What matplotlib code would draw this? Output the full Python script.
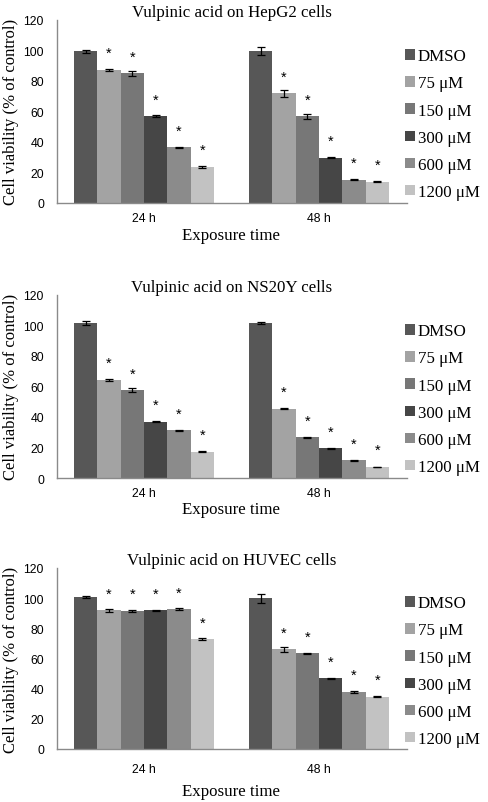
import matplotlib
matplotlib.use("Agg")
import matplotlib.pyplot as plt
import numpy as np

groups = ["24 h", "48 h"]
series = ["DMSO", "75 \u03bcM", "150 \u03bcM", "300 \u03bcM", "600 \u03bcM", "1200 \u03bcM"]
colors = ["#575757", "#a3a3a3", "#777777", "#464646", "#8b8b8b", "#c2c2c2"]

titles = ["Vulpinic acid on HepG2 cells", "Vulpinic acid on NS20Y cells", "Vulpinic acid on HUVEC cells"]

# values[series][group]
hepg2_vals = [[99.2, 99.4], [87.2, 71.8], [84.8, 56.7], [56.8, 29.6], [36.6, 15.3], [23.6, 13.9]]
hepg2_err = [[0.8, 2.6], [0.5, 2.2], [1.5, 1.4], [0.8, 0.3], [0.3, 0.3], [0.4, 0.3]]
hepg2_sig = [[False, False], [True, True], [True, True], [True, True], [True, True], [True, True]]

ns20y_vals = [[101.5, 101.5], [64.2, 45.4], [57.6, 26.6], [36.9, 19.6], [31.2, 11.6], [17.2, 7.2]]
ns20y_err = [[1.5, 0.4], [0.5, 0.4], [1.0, 0.5], [0.4, 0.3], [0.3, 0.3], [0.3, 0.3]]
ns20y_sig = [[False, False], [True, True], [True, True], [True, True], [True, True], [True, True]]

huvec_vals = [[101.0, 100.0], [91.9, 66.1], [91.5, 63.6], [92.0, 46.9], [92.8, 37.9], [72.9, 34.6]]
huvec_err = [[0.6, 3.0], [1.0, 1.5], [0.8, 0.3], [0.4, 0.3], [0.4, 0.5], [0.4, 0.3]]
huvec_sig = [[False, False], [True, True], [True, True], [True, True], [True, True], [True, True]]

panels = [(hepg2_vals, hepg2_err, hepg2_sig),
          (ns20y_vals, ns20y_err, ns20y_sig),
          (huvec_vals, huvec_err, huvec_sig)]

yticks = [0, 20, 40, 60, 80, 100, 120]

W, H = 488, 803
fig = plt.figure(figsize=(W / 100, H / 100), dpi=100)

# axes pixel boxes: (y_top_px for 120, y_bottom_px for 0)
boxes = [(20.7, 204), (295.7, 479), (569, 750)]
xlabel_px = [236, 510, 792]
ticklabel_px = [219, 494, 770]
left_px, right_px = 56.5, 406.5

serif = ["Liberation Serif", "DejaVu Serif"]
sans = ["Liberation Sans", "DejaVu Sans"]

n = len(series)
bw = 0.8 / n
x = np.arange(len(groups))

for (vals, errs, sigs), title, (ytop, ybot), xlp, tlp in zip(panels, titles, boxes, xlabel_px, ticklabel_px):
    ax = fig.add_axes([left_px / W, 1 - ybot / H, (right_px - left_px) / W, (ybot - ytop) / H])
    handles = []
    for i in range(n):
        pos = x + (i - (n - 1) / 2) * bw
        b = ax.bar(pos, vals[i], width=bw, color=colors[i], label=series[i], zorder=2)
        handles.append(b)
        ax.errorbar(pos, vals[i], yerr=errs[i], fmt="none", ecolor="black",
                    elinewidth=0.9, capsize=2.8, capthick=0.9, zorder=3)
        for j in range(len(groups)):
            if sigs[i][j]:
                ax.annotate("*", (pos[j], vals[i][j]), xytext=(0, 7), textcoords="offset points",
                            ha="center", va="bottom", fontsize=10.5, family=sans, color="black")
    ax.set_xlim(-0.5, 1.5)
    ax.set_ylim(0, 120)
    ax.set_yticks(yticks)
    ax.set_yticklabels([str(t) for t in yticks], family=sans, fontsize=8.8)
    ax.set_xticks(x)
    ax.set_xticklabels(groups, family=sans, fontsize=8.8)
    ax.tick_params(axis="y", length=0, pad=9)
    ax.tick_params(axis="x", length=0, pad=(tlp - ybot - 6) * 0.72)
    for s in ["top", "right"]:
        ax.spines[s].set_visible(False)
    for s in ["left", "bottom"]:
        ax.spines[s].set_color("#8a8a8a")
        ax.spines[s].set_linewidth(1.0)
    ax.set_title(title, family=serif, fontsize=12.2, pad=2)
    ax.set_ylabel("Cell viability (% of control)", family=serif, fontsize=12, labelpad=3)
    fig.text((left_px + right_px) / 2 / W, 1 - xlp / H, "Exposure time", family=serif,
             fontsize=12.2, ha="center", va="center")
    leg = ax.legend(handles=handles, loc="center left", bbox_to_anchor=(0.995, 0.43),
                    frameon=False, prop={"family": serif, "size": 12.2},
                    handlelength=0.58, handleheight=0.58, handletextpad=0.2,
                    labelspacing=0.66, borderpad=0, borderaxespad=0)

fig.savefig("out.png", dpi=100)
